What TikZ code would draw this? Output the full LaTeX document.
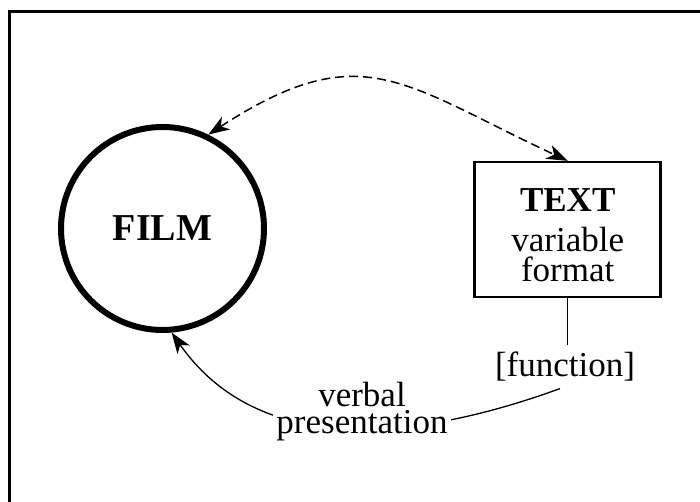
\documentclass[tikz,border=0pt]{standalone}
\usepackage{fontspec}
\setmainfont{Liberation Serif}
\usetikzlibrary{arrows.meta,positioning,calc}

\tikzset{
	tip/.style={-{Stealth[length=21pt,width=15pt,inset=6pt]}},
	twotips/.style={{Stealth[length=21pt,width=15pt,inset=6pt]}-{Stealth[length=21pt,width=15pt,inset=6pt]}},
	bigfont/.style={font=\fontsize{35}{30}\selectfont}
}

\begin{document}
\begin{tikzpicture}[x=1pt,y=1pt]
	\useasboundingbox (0,0) rectangle (700,502);
	% frame (top and left only)
	\draw[line width=3pt] (9.5,0) -- (9.5,490.5) -- (700,490.5);
	% film
	\node[draw, circle, line width=6pt, minimum size=203pt, inner sep=0pt,
		font=\fontsize{38}{40}\selectfont\bfseries] (film) at (162.5,273.5) {FILM};
	% text box
	\node[draw, line width=2.5pt, minimum width=186pt, minimum height=135pt] (txt) at (567.7,272.4) {};
	\node[bigfont, align=center] (txtlbl) at (567.7,267) {\textbf{TEXT}\\[10pt]variable\\format};
	% function
	\node[bigfont, inner sep=7pt, anchor=base] (func) at (565,125.3) {[function]};
	\draw[line width=1.3pt] (txt.south) -- (txt.south |- func.north);
	% dashed link film <-> text
	\draw[line width=1.5pt, dash pattern=on 9pt off 5pt, twotips]
		(film.64) to[out=33, in=155, looseness=1.3] (txt.north);
	% verbal presentation
	\draw[line width=1.3pt, tip] ([xshift=-5pt]func.south) to[out=200, in=-55] (film.-85);
	\node[fill=white, align=center, inner sep=3pt, font=\fontsize{35}{27}\selectfont] (verb) at (362,90) {verbal\\presentation};
\end{tikzpicture}
\end{document}
